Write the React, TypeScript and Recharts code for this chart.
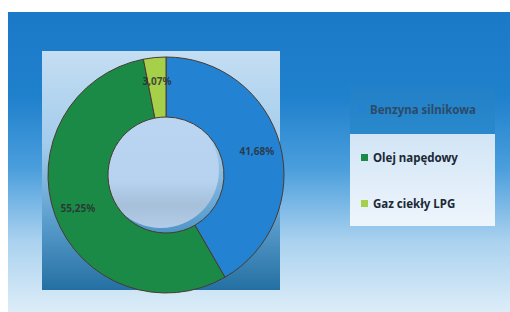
import React from "react";
import { PieChart, Pie, Cell, Legend } from "recharts";

const categories = ["Benzyna silnikowa", "Olej napędowy", "Gaz ciekły LPG"];
const shares = [41.68, 55.25, 3.07];
const colors = ["#2383d2", "#1b8a46", "#a6cf4a"];

const data = categories.map((name, i) => ({ name, value: shares[i] }));

const RAD = Math.PI / 180;

const renderLabel = (props: any) => {
  const { cx, cy, midAngle, value } = props;
  const r = 94;
  const x = cx + r * Math.cos(-midAngle * RAD);
  const y = cy + r * Math.sin(-midAngle * RAD);
  return (
    <text
      x={x}
      y={y}
      textAnchor="middle"
      dominantBaseline="central"
      fill="#2b2a30"
      fontSize={10}
      fontWeight="bold"
      fontFamily="'Noto Sans', sans-serif"
      opacity={0.8}
    >
      {value.toFixed(2).replace(".", ",") + "%"}
    </text>
  );
};

const LegendContent = () => (
  <div
    style={{
      width: 145,
      height: 142,
      fontFamily: "'Noto Sans', sans-serif",
      fontWeight: "bold",
      fontSize: 11.5,
      background: "linear-gradient(#c2dcf2, #eef5fc)",
    }}
  >
    {data.map((d, i) => (
      <div
        key={d.name}
        style={{
          height: i === 0 ? 50 : 46,
          display: "flex",
          alignItems: "center",
          paddingLeft: i === 0 ? 8 : 11,
          background: i === 0 ? "linear-gradient(#2280c8, #2a88cc)" : "transparent",
          color: i === 0 ? "#2c4b68" : "#1c2836",
          boxSizing: "border-box",
          whiteSpace: "nowrap",
        }}
      >
        <span
          style={{
            display: "inline-block",
            width: 7,
            height: 7,
            background: colors[i],
            marginRight: 5,
          }}
        />
        {d.name}
      </div>
    ))}
  </div>
);

export default function App() {
  return (
    <div style={{ position: "fixed", left: 0, top: 0, width: 510, height: 312, background: "#ffffff", overflow: "hidden" }}>
      <div
        style={{
          position: "absolute",
          left: 8,
          top: 12,
          width: 502,
          height: 300,
          background: "linear-gradient(#1b7ac8 0%, #1f80cc 28%, #4a9edc 52%, #a9d1ef 76%, #ddedf8 100%)",
        }}
      />
      <div
        style={{
          position: "absolute",
          left: 42,
          top: 51,
          width: 238,
          height: 239,
          background: "linear-gradient(#c4def3 0%, #a2cbeb 40%, #5c9fcf 70%, #2470a2 100%)",
        }}
      />
      <div
        style={{
          position: "absolute",
          left: 103,
          top: 112,
          width: 116,
          height: 116,
          borderRadius: "50%",
          background: "linear-gradient(#bcd6f2 0%, #b6d2ee 60%, #a6c0da 80%, #b2cce8 100%)",
        }}
      />
      <div style={{ position: "absolute", left: 0, top: 0 }}>
        <PieChart width={510} height={312}>
          <Pie
            data={data}
            dataKey="value"
            nameKey="name"
            cx={161}
            cy={170}
            innerRadius={58}
            outerRadius={118}
            startAngle={90}
            endAngle={-270}
            stroke="#4a3a30"
            strokeWidth={1}
            label={renderLabel}
            labelLine={false}
            isAnimationActive={false}
          >
            {data.map((d, i) => (
              <Cell key={d.name} fill={colors[i]} />
            ))}
          </Pie>
          <Legend
            content={<LegendContent />}
            wrapperStyle={{ position: "absolute", left: 350, top: 84, width: 145, height: 142 }}
          />
        </PieChart>
      </div>
    </div>
  );
}
